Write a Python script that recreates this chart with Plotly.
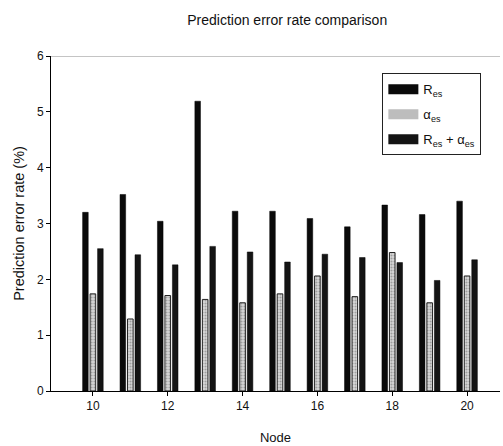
import plotly.graph_objects as go

nodes = [10, 11, 12, 13, 14, 15, 16, 17, 18, 19, 20]
res = [3.20, 3.52, 3.04, 5.19, 3.22, 3.22, 3.09, 2.94, 3.33, 3.16, 3.40]
alpha = [1.74, 1.29, 1.71, 1.64, 1.58, 1.74, 2.06, 1.69, 2.48, 1.58, 2.06]
res_alpha = [2.55, 2.44, 2.26, 2.59, 2.49, 2.31, 2.45, 2.39, 2.30, 1.98, 2.35]
names = ["R<sub>es</sub>", "α<sub>es</sub>", "R<sub>es</sub> + α<sub>es</sub>"]
title = "Prediction error rate comparison"
x_title = "Node"
y_title = "Prediction error rate (%)"

font = "Liberation Sans, Arial, sans-serif"
colors = ["#0a0a0a", "#d0d0d0", "#141414"]
fig = go.Figure()
fig.add_trace(go.Bar(x=nodes, y=res, name=names[0], showlegend=False,
                     marker=dict(color=colors[0], line=dict(color="#000", width=0.5))))
fig.add_trace(go.Bar(x=nodes, y=alpha, name=names[1], showlegend=False,
                     marker=dict(color=colors[1], line=dict(color="#222", width=1),
                                 pattern=dict(shape=".", fgcolor="#666", bgcolor="#d8d8d8",
                                              size=3, solidity=0.4))))
fig.add_trace(go.Bar(x=nodes, y=res_alpha, name=names[2], showlegend=False,
                     marker=dict(color=colors[2], line=dict(color="#000", width=0.5))))

# legend swatches (wide rectangles as in the reference)
for i, (nm, c) in enumerate(zip(names, colors)):
    fig.add_trace(go.Scatter(x=[None], y=[None], mode="lines", name=nm,
                             legendgroup=f"g{i}",
                             line=dict(color=c if i != 1 else "#bdbdbd", width=10)))

fig.add_shape(type="line", xref="paper", yref="y", x0=0, x1=1, y0=6, y1=6,
              line=dict(color="#8a8a8a", width=1))

fig.update_layout(
    width=503, height=446,
    margin=dict(l=51, r=3, t=56, b=55),
    paper_bgcolor="white", plot_bgcolor="white",
    barmode="group", bargap=0.4, bargroupgap=0.25,
    font=dict(family=font, color="#111", size=12),
    title=dict(text=title, x=0.571, xanchor="center", y=0.955, yanchor="middle",
               font=dict(size=14, family=font)),
    xaxis=dict(range=[8.88, 20.88], tickvals=[10, 12, 14, 16, 18, 20],
               ticks="outside", ticklen=4, tickcolor="#000",
               showline=True, linecolor="#000", linewidth=1, showgrid=False,
               zeroline=False, tickfont=dict(size=12),
               title=dict(text=x_title, font=dict(size=13), standoff=20)),
    yaxis=dict(range=[0, 6], tickvals=[0, 1, 2, 3, 4, 5, 6],
               ticks="outside", ticklen=4, tickcolor="#000",
               showline=True, linecolor="#000", linewidth=1, showgrid=False,
               zeroline=False, tickfont=dict(size=12),
               title=dict(text=y_title, font=dict(size=14.5), standoff=8)),
    legend=dict(x=0.738, y=0.948, xanchor="left", yanchor="top",
                bgcolor="white", bordercolor="#222", borderwidth=1,
                font=dict(size=13, family=font), tracegroupgap=5,
                itemwidth=30),
    showlegend=True,
)

fig.write_html("out.html")
